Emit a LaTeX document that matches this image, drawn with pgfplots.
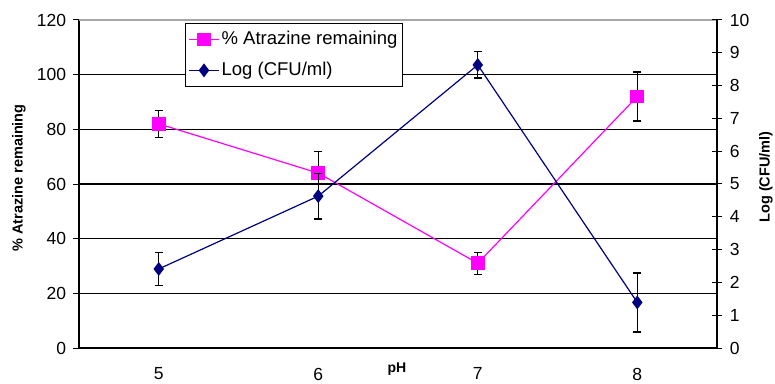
\documentclass[border=0pt]{standalone}
\usepackage{pgfplots}
\pgfplotsset{compat=1.18}
\usepackage{fontspec}
\setmainfont{Liberation Sans}
\definecolor{pinkc}{RGB}{255,0,255}
\definecolor{navyc}{RGB}{0,0,128}
\begin{document}
\fontsize{17}{20}\selectfont
\begin{tikzpicture}[x=1pt,y=1pt]
\path[use as bounding box] (0,0) rectangle (775,383);
\pgfplotsset{
  every axis/.append style={
    scale only axis, width=638pt, height=328pt,
    at={(79pt,35pt)}, anchor=south west,
    xmin=4.5, xmax=8.5,
    /pgf/number format/assume math mode=true,
    tick label style={font=\fontsize{17.5}{20}\selectfont},
  }
}
\begin{axis}[
  axis y line*=left,
  axis x line*=bottom,
  ymin=0, ymax=120, ytick={0,20,...,120},
  ymajorgrids, grid style={black, line width=1.6pt},
  xtick={5,6,7,8}, xticklabels={5,6,7,8},
  extra x ticks={4.5,5.5,6.5,7.5,8.5}, extra x tick labels={},
  extra x tick style={major tick length=6pt, tick style={black, line width=1pt}, grid=none},
  major x tick style={draw=none},
  xtick style={draw=none},
  ytick style={black, line width=1pt},
  tick align=outside, major tick length=6pt,
  axis line style={black, line width=1.5pt},
  xticklabel style={yshift=-8pt},
  yticklabel style={xshift=-1pt},
  legend style={at={(axis description cs:0.166,0.991)}, anchor=north west, draw=black, line width=1pt, fill=white,
    font=\fontsize{18.5}{21}\selectfont, row sep=11pt, inner xsep=3pt, inner ysep=6pt,
    /tikz/every even column/.append style={column sep=2pt}},
  legend cell align=left,
  legend image code/.code={\draw[#1] (0pt,0pt) -- (30pt,0pt); \draw[#1, mark repeat=2, mark phase=2] plot coordinates {(0pt,0pt) (15pt,0pt) (30pt,0pt)};},
  clip=false,
]
\draw[gray!70, line width=1.5pt] (rel axis cs:0,1) -- (rel axis cs:1,1);
\addplot[pinkc, line width=1.2pt, mark=square*, mark size=6.3pt,
  mark options={solid, fill=pinkc, draw=pinkc},
  error bars/.cd, y dir=both, y explicit,
  error bar style={black, line width=1.3pt, solid}, error mark options={black, line width=1.3pt, mark size=4pt, rotate=90}]
  coordinates {(5,82) +- (0,5) (6,64) +- (0,8) (7,31) +- (0,4) (8,92) +- (0,9)};
\addlegendentry{\% Atrazine remaining}
\addlegendimage{navyc, line width=1.2pt, mark=diamond*, mark size=6pt, mark options={fill=navyc}}
\addlegendentry{Log (CFU/ml)}
\end{axis}
\begin{axis}[
  axis y line*=right,
  axis x line=none,
  ymin=0, ymax=10, ytick={0,1,...,10},
  ytick style={black, line width=1pt},
  tick align=center, major tick length=10pt,
  axis line style={black, line width=1.5pt},
  yticklabel style={xshift=2pt},
  clip=false,
]
\addplot[navyc, line width=1.2pt, mark=diamond*, mark size=6pt,
  mark options={solid, fill=navyc, draw=navyc},
  error bars/.cd, y dir=both, y explicit,
  error bar style={black, line width=1.3pt, solid}, error mark options={black, line width=1.3pt, mark size=4pt, rotate=90}]
  coordinates {(5,2.41) +- (0,0.5) (6,4.63) +- (0,0.7) (7,8.63) +- (0,0.4) (8,1.39) +- (0,0.9)};
\end{axis}
\node[rotate=90, font=\fontsize{14.5}{17}\bfseries] at (19,205) {\% Atrazine remaining};
\node[rotate=90, font=\fontsize{14.5}{17}\bfseries] at (766,206) {Log (CFU/ml)};
\node[font=\fontsize{14}{17}\bfseries] at (397,14) {pH};
\end{tikzpicture}
\end{document}
